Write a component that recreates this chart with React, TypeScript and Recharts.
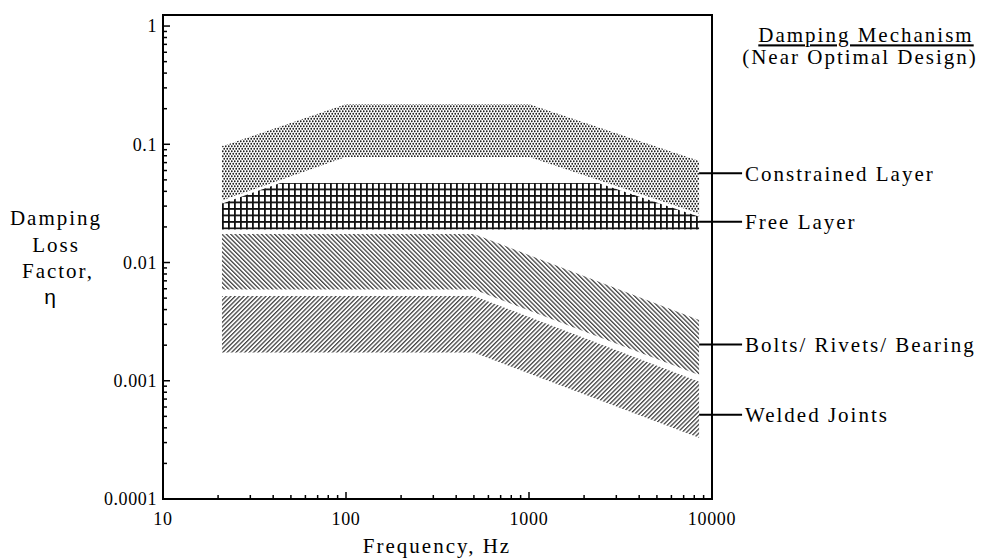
import { AreaChart, Area, XAxis, YAxis, ReferenceArea, ReferenceLine } from "recharts";

// band breakpoints (Hz) and loss-factor limits
const freqs = [21, 100, 500, 1000, 8500];
const constrainedLow = [0.0325, 0.076, null, 0.076, 0.0252];
const constrainedHigh = [0.099, 0.225, null, 0.225, 0.0746];
const freeLow = [0.019, null, null, null, 0.019];
const freeHigh = [0.047, null, null, null, 0.047];
const boltsLow = [0.0059, null, 0.0059, null, 0.00112];
const boltsHigh = [0.0174, null, 0.0174, null, 0.00326];
const weldedLow = [0.00173, null, 0.00173, null, 0.00033];
const weldedHigh = [0.0052, null, 0.0052, null, 0.00098];

const xMajor = [10, 100, 1000, 10000];
const xTickLabels = ["10", "100", "1000", "10000"];
const yMajor = [0.0001, 0.001, 0.01, 0.1, 1];
const yTickLabels = ["0.0001", "0.001", "0.01", "0.1", "1"];
const yTop = 1.24;

const leaderNames = ["Constrained Layer", "Free Layer", "Bolts/ Rivets/ Bearing", "Welded Joints"];
const leaderLevels = [0.0568, 0.0221, 0.00203, 0.000516];
const leaderFreqs = [8500, 14600];

const SERIF = "Liberation Serif";

const pair = (lo: (number | null)[], hi: (number | null)[], i: number) =>
  lo[i] == null || hi[i] == null ? null : [lo[i], hi[i]];

const rows = freqs.map((f, i) => ({
  f,
  constrained: pair(constrainedLow, constrainedHigh, i),
  free: pair(freeLow, freeHigh, i),
  bolts: pair(boltsLow, boltsHigh, i),
  welded: pair(weldedLow, weldedHigh, i),
}));

const minors = (majors: number[]) =>
  majors.slice(0, -1).flatMap((d) => [2, 3, 4, 5, 6, 7, 8, 9].map((m) => m * d));
const xTicks = [...xMajor, ...minors(xMajor)];
const yTicks = [...yMajor, ...minors(yMajor)];

const XTick = ({ x, y, payload }: any) => {
  const i = xMajor.indexOf(payload.value);
  return (
    <g>
      <line x1={x} y1={y} x2={x} y2={y - (i >= 0 ? 7 : 4)} stroke="#000" strokeWidth={1.5} />
      {i >= 0 && (
        <text x={x} y={y + 20} dy="0.35em" textAnchor="middle" style={{ fontFamily: SERIF, fontSize: 18, letterSpacing: 0.7 }} fill="#000">
          {xTickLabels[i]}
        </text>
      )}
    </g>
  );
};

const YTick = ({ x, y, payload }: any) => {
  const i = yMajor.indexOf(payload.value);
  return (
    <g>
      <line x1={x} y1={y} x2={x + (i >= 0 ? 7 : 4)} y2={y} stroke="#000" strokeWidth={1.5} />
      {i >= 0 && (
        <text x={x - 6} y={y} dy="0.35em" textAnchor="end" style={{ fontFamily: SERIF, fontSize: 18, letterSpacing: 0.6 }} fill="#000">
          {yTickLabels[i]}
        </text>
      )}
    </g>
  );
};

const LeaderLabel = ({ viewBox, text }: any) => {
  if (!viewBox) return null;
  return (
    <text
      x={viewBox.x + viewBox.width + 3}
      y={viewBox.y + viewBox.height / 2}
      dy="0.35em"
      style={{ fontFamily: SERIF, fontSize: 21, letterSpacing: 2 }}
      fill="#000"
    >
      {text}
    </text>
  );
};

export default function App() {
  return (
    <div style={{ position: "absolute", left: 0, top: 0, width: 983, height: 558, background: "#fff" }}>
      <AreaChart width={983} height={558} data={rows} margin={{ top: 15, right: 271, bottom: 0, left: 0 }}>
        <defs>
          <pattern id="dots" width="3" height="5" patternUnits="userSpaceOnUse">
            <rect width="3" height="5" fill="#fff" />
            <circle cx="0.75" cy="1.25" r="0.95" fill="#222" />
            <circle cx="2.25" cy="3.75" r="0.95" fill="#222" />
          </pattern>
          <pattern id="grid" width="6" height="6.5" patternUnits="userSpaceOnUse">
            <rect width="6" height="6.5" fill="#fff" />
            <rect x="0" y="0" width="1.8" height="6.5" fill="#111" />
            <rect x="0" y="0" width="6" height="1.8" fill="#111" />
          </pattern>
          <pattern id="hatchBack" width="3.1" height="3.1" patternUnits="userSpaceOnUse" patternTransform="rotate(-45)">
            <rect width="3.1" height="3.1" fill="#fff" />
            <rect x="0" y="0" width="1.3" height="3.1" fill="#444" />
          </pattern>
          <pattern id="hatchFwd" width="3.1" height="3.1" patternUnits="userSpaceOnUse" patternTransform="rotate(45)">
            <rect width="3.1" height="3.1" fill="#fff" />
            <rect x="0" y="0" width="1.3" height="3.1" fill="#444" />
          </pattern>
        </defs>
        <XAxis
          dataKey="f"
          type="number"
          scale="log"
          domain={[10, 10000]}
          allowDataOverflow
          ticks={xTicks}
          interval={0}
          height={59}
          tickSize={0}
          tickMargin={0}
          tickLine={false}
          tick={<XTick />}
          axisLine={{ stroke: "#000", strokeWidth: 2 }}
        />
        <YAxis
          type="number"
          scale="log"
          domain={[0.0001, yTop]}
          allowDataOverflow
          ticks={yTicks}
          interval={0}
          width={163}
          tickSize={0}
          tickMargin={0}
          tickLine={false}
          tick={<YTick />}
          axisLine={{ stroke: "#000", strokeWidth: 2 }}
        />
        <Area dataKey="free" type="linear" connectNulls fill="url(#grid)" fillOpacity={1} stroke="none" dot={false} activeDot={false} isAnimationActive={false} />
        <Area dataKey="constrained" type="linear" connectNulls fill="url(#dots)" fillOpacity={1} stroke="#fff" strokeWidth={3} dot={false} activeDot={false} isAnimationActive={false} />
        <Area dataKey="bolts" type="linear" connectNulls fill="url(#hatchBack)" fillOpacity={1} stroke="none" dot={false} activeDot={false} isAnimationActive={false} />
        <Area dataKey="welded" type="linear" connectNulls fill="url(#hatchFwd)" fillOpacity={1} stroke="none" dot={false} activeDot={false} isAnimationActive={false} />
        {leaderNames.map((name, i) => (
          <ReferenceLine
            key={name}
            segment={[
              { x: leaderFreqs[0], y: leaderLevels[i] },
              { x: leaderFreqs[1], y: leaderLevels[i] },
            ]}
            stroke="#000"
            strokeWidth={2}
            ifOverflow="visible"
            label={<LeaderLabel text={name} />}
          />
        ))}
        <ReferenceArea x1={10} x2={10000} y1={0.0001} y2={yTop} fill="none" stroke="#000" strokeWidth={2} ifOverflow="visible" />
      </AreaChart>
      <svg width={983} height={558} style={{ position: "absolute", left: 0, top: 0, pointerEvents: "none" }}>
        <g style={{ fontFamily: SERIF, fontSize: 21, letterSpacing: 2 }} fill="#000" textAnchor="middle">
          <text x={866} y={35} dy="0.35em" style={{ textDecoration: "underline" }}>Damping Mechanism</text>
          <text x={860} y={57} dy="0.35em">(Near Optimal Design)</text>
          <text x={56} y={218} dy="0.35em">Damping</text>
          <text x={56} y={245} dy="0.35em">Loss</text>
          <text x={58} y={271} dy="0.35em">Factor,</text>
          <text x={437} y={546} dy="0.35em">Frequency, Hz</text>
        </g>
        <text x={50} y={297} dy="0.35em" textAnchor="middle" style={{ fontFamily: "Liberation Sans", fontSize: 21 }} fill="#000">
          η
        </text>
      </svg>
    </div>
  );
}
